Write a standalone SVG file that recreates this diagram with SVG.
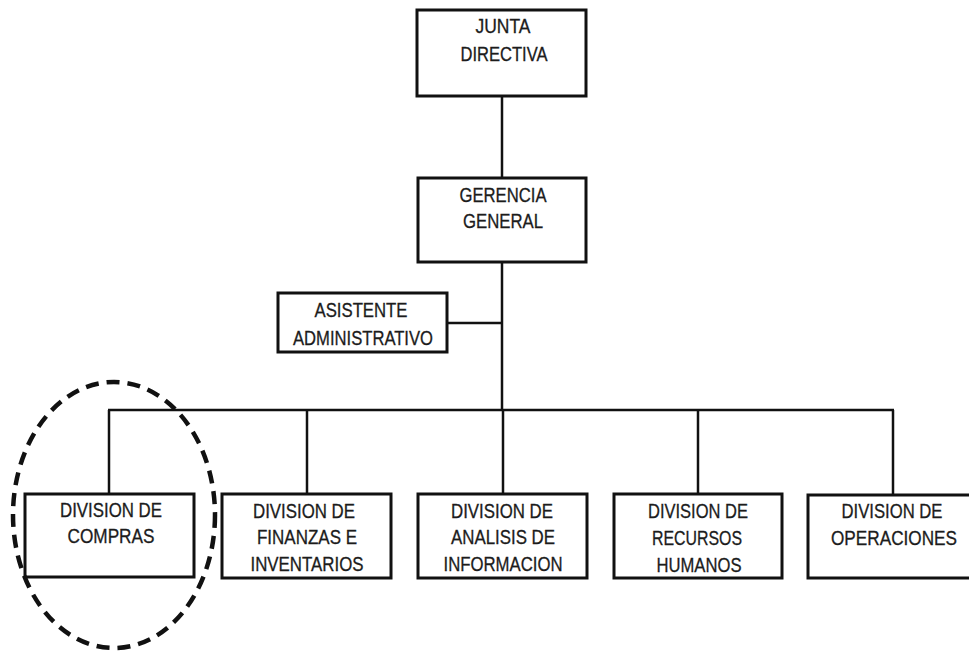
<svg xmlns="http://www.w3.org/2000/svg" width="969" height="652" viewBox="0 0 969 652">
  <style>
    .box { fill: #ffffff; stroke: #111111; stroke-width: 3; }
    .link { fill: none; stroke: #111111; stroke-width: 2.5; }
    .lbl { font-family: "Liberation Sans", Arial, sans-serif; font-size: 20px; fill: #1c1c1c; stroke: #1c1c1c; stroke-width: 0.3; text-anchor: middle; }
    .mark { fill: none; stroke: #111111; stroke-width: 4.5; stroke-dasharray: 13 8; }
  </style>
  <rect x="0" y="0" width="969" height="652" fill="#ffffff"/>

  <!-- connectors -->
  <g id="connectors">
    <line class="link" x1="502" y1="96" x2="502" y2="178"/>
    <line class="link" x1="502" y1="262" x2="502" y2="410"/>
    <line class="link" x1="447" y1="323" x2="502" y2="323"/>
    <line class="link" x1="108" y1="410" x2="894" y2="410"/>
    <line class="link" x1="109" y1="410" x2="109" y2="494"/>
    <line class="link" x1="307" y1="410" x2="307" y2="494"/>
    <line class="link" x1="503" y1="410" x2="503" y2="494"/>
    <line class="link" x1="698" y1="410" x2="698" y2="494"/>
    <line class="link" x1="893" y1="410" x2="893" y2="495"/>
  </g>

  <g id="junta-directiva">
    <rect class="box" x="417" y="10" width="169" height="86"/>
    <text class="lbl" x="503" y="33" textLength="55" lengthAdjust="spacingAndGlyphs">JUNTA</text>
    <text class="lbl" x="504" y="61" textLength="87" lengthAdjust="spacingAndGlyphs">DIRECTIVA</text>
  </g>

  <g id="gerencia-general">
    <rect class="box" x="418" y="178" width="168" height="84"/>
    <text class="lbl" x="503" y="202" textLength="87" lengthAdjust="spacingAndGlyphs">GERENCIA</text>
    <text class="lbl" x="503" y="228" textLength="80" lengthAdjust="spacingAndGlyphs">GENERAL</text>
  </g>

  <g id="asistente-administrativo">
    <rect class="box" x="278" y="293" width="169" height="59"/>
    <text class="lbl" x="361" y="317" textLength="93" lengthAdjust="spacingAndGlyphs">ASISTENTE</text>
    <text class="lbl" x="363" y="345" textLength="140" lengthAdjust="spacingAndGlyphs">ADMINISTRATIVO</text>
  </g>

  <g id="division-compras">
    <rect class="box" x="25" y="494" width="169" height="83"/>
    <text class="lbl" x="111" y="517" textLength="102" lengthAdjust="spacingAndGlyphs">DIVISION DE</text>
    <text class="lbl" x="111" y="543" textLength="87" lengthAdjust="spacingAndGlyphs">COMPRAS</text>
  </g>

  <g id="division-finanzas">
    <rect class="box" x="222" y="494" width="169" height="84"/>
    <text class="lbl" x="304" y="518" textLength="102" lengthAdjust="spacingAndGlyphs">DIVISION DE</text>
    <text class="lbl" x="307" y="544" textLength="100" lengthAdjust="spacingAndGlyphs">FINANZAS E</text>
    <text class="lbl" x="307" y="571" textLength="113" lengthAdjust="spacingAndGlyphs">INVENTARIOS</text>
  </g>

  <g id="division-analisis">
    <rect class="box" x="418" y="494" width="169" height="84"/>
    <text class="lbl" x="502" y="518" textLength="102" lengthAdjust="spacingAndGlyphs">DIVISION DE</text>
    <text class="lbl" x="503" y="544" textLength="104" lengthAdjust="spacingAndGlyphs">ANALISIS DE</text>
    <text class="lbl" x="503" y="571" textLength="119" lengthAdjust="spacingAndGlyphs">INFORMACION</text>
  </g>

  <g id="division-recursos">
    <rect class="box" x="614" y="494" width="168" height="84"/>
    <text class="lbl" x="698" y="518" textLength="100" lengthAdjust="spacingAndGlyphs">DIVISION DE</text>
    <text class="lbl" x="697" y="545" textLength="90" lengthAdjust="spacingAndGlyphs">RECURSOS</text>
    <text class="lbl" x="699" y="572" textLength="85" lengthAdjust="spacingAndGlyphs">HUMANOS</text>
  </g>

  <g id="division-operaciones">
    <rect class="box" x="808" y="495" width="170" height="83"/>
    <text class="lbl" x="892" y="518" textLength="101" lengthAdjust="spacingAndGlyphs">DIVISION DE</text>
    <text class="lbl" x="894" y="545" textLength="126" lengthAdjust="spacingAndGlyphs">OPERACIONES</text>
  </g>

  <!-- dashed highlight around the purchasing division -->
  <ellipse id="highlight" class="mark" cx="114" cy="515" rx="101" ry="133"/>
</svg>
